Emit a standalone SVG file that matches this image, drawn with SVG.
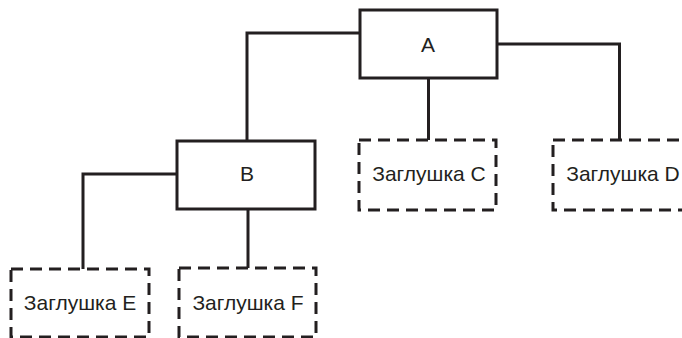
<svg xmlns="http://www.w3.org/2000/svg" width="682" height="338" viewBox="0 0 682 338">
<style>
.solid{fill:#fff;stroke:#231f20;stroke-width:3}
.stub{fill:#fff;stroke:#231f20;stroke-width:3;stroke-dasharray:12 7}
.conn{fill:none;stroke:#231f20;stroke-width:3}
text{font-family:"Liberation Sans",Arial,sans-serif;font-size:21px;fill:#231f20;text-anchor:middle}
</style>
<rect width="682" height="338" fill="#fff"/>
<g id="connectors">
<polyline class="conn" points="360,33 247,33 247,141"/>
<polyline class="conn" points="428.5,78 428.5,140"/>
<polyline class="conn" points="497,44 619.5,44 619.5,140"/>
<polyline class="conn" points="177,174 83,174 83,269"/>
<polyline class="conn" points="248,209 248,268"/>
</g>
<g id="A"><rect class="solid" x="360" y="10" width="137" height="68"/><text x="428" y="52">A</text></g>
<g id="B"><rect class="solid" x="177" y="141" width="138" height="68"/><text x="247" y="181">B</text></g>
<g id="C"><rect class="stub" x="359" y="140" width="137" height="70"/><text x="429" y="181">Заглушка C</text></g>
<g id="D"><rect class="stub" x="553" y="140" width="138" height="70"/><text x="623" y="181">Заглушка D</text></g>
<g id="E"><rect class="stub" x="11" y="269" width="138" height="68"/><text x="80" y="310">Заглушка E</text></g>
<g id="F"><rect class="stub" x="179" y="268" width="137" height="69"/><text x="248" y="310">Заглушка F</text></g>
</svg>
